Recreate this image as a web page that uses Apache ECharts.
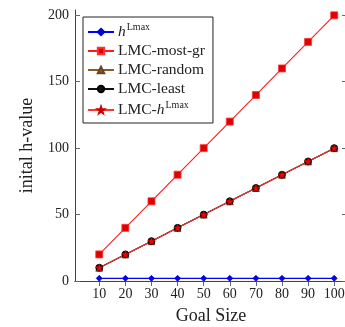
<!DOCTYPE html>
<html>
<head>
<meta charset="utf-8">
<script src="https://cdn.jsdelivr.net/npm/echarts@6/dist/echarts.min.js"></script>
<style>
  html, body { margin: 0; padding: 0; background: #fff; }
  #chart { width: 345px; height: 327px; }
</style>
</head>
<body>
<div id="chart"></div>
<script>
// data
const goalSizes = [10, 20, 30, 40, 50, 60, 70, 80, 90, 100];
const hLmax = [2, 2, 2, 2, 2, 2, 2, 2, 2, 2];
const lmcMostGr = [20, 40, 60, 80, 100, 120, 140, 160, 180, 200];
const lmcRandom = [10, 20, 30, 40, 50, 60, 70, 80, 90, 100];
const lmcLeast = [10, 20, 30, 40, 50, 60, 70, 80, 90, 100];
const lmcHLmax = [10, 20, 30, 40, 50, 60, 70, 80, 90, 100];
const yTicks = [0, 50, 100, 150, 200];

const FONT = '"Liberation Serif", "DejaVu Serif", serif';
const STAR = 'path://M0,-10L2.35,-3.24L9.51,-3.09L3.8,1.24L5.88,8.09L0,4L-5.88,8.09L-3.8,1.24L-9.51,-3.09L-2.35,-3.24Z';

function pairs(ys) {
  return goalSizes.map((x, i) => [x, ys[i]]);
}

function line(name, ys, color, symbol, size, fill, border) {
  return {
    name: name,
    type: 'line',
    data: pairs(ys),
    symbol: symbol,
    symbolSize: size,
    showAllSymbol: true,
    lineStyle: { color: color, width: 1.1 },
    itemStyle: { color: fill, borderColor: border, borderWidth: 0.8 },
    emphasis: { disabled: true },
    animation: false
  };
}

const chart = echarts.init(document.getElementById('chart'));

const sideAxis = {
  axisLine: { lineStyle: { color: '#444', width: 1 } },
  axisTick: { inside: true, length: 5, lineStyle: { color: '#666' } },
  splitLine: { show: false },
  axisLabel: { show: false }
};

chart.setOption({
  animation: false,
  // keep the plot box fixed, the labels live outside it
  grid: { left: 75, right: -2, top: 10, bottom: 46, outerBoundsMode: 'none', containLabel: false },
  xAxis: [{
    type: 'value',
    min: 0.7,
    max: 104.9,
    name: 'Goal Size',
    nameLocation: 'middle',
    nameGap: 26,
    nameTextStyle: { fontFamily: FONT, fontSize: 18, color: '#222' },
    axisLine: { lineStyle: { color: '#444', width: 1 } },
    axisTick: { inside: true, length: 5, customValues: goalSizes, lineStyle: { color: '#666' } },
    axisLabel: { customValues: goalSizes, fontFamily: FONT, fontSize: 14, color: '#222', margin: 6 },
    splitLine: { show: false }
  }, Object.assign({
    type: 'value', position: 'top', min: 0.7, max: 104.9
  }, sideAxis, {
    axisTick: { inside: true, length: 5, customValues: goalSizes, lineStyle: { color: '#666' } }
  })],
  yAxis: [{
    type: 'value',
    min: 0,
    max: 204,
    name: 'inital h-value',
    nameLocation: 'middle',
    nameGap: 39,
    nameTextStyle: { fontFamily: FONT, fontSize: 18, color: '#222' },
    axisLine: { show: true, lineStyle: { color: '#444', width: 1 } },
    axisTick: { show: true, inside: true, length: 5, customValues: yTicks, lineStyle: { color: '#666' } },
    axisLabel: { customValues: yTicks, fontFamily: FONT, fontSize: 14, color: '#222', margin: 6 },
    splitLine: { show: false }
  }, Object.assign({
    type: 'value', position: 'right', min: 0, max: 204
  }, sideAxis, {
    axisLine: { show: true, lineStyle: { color: '#444', width: 1 } },
    axisTick: { show: true, inside: true, length: 5, customValues: yTicks, lineStyle: { color: '#666' } }
  })],
  legend: {
    orient: 'vertical',
    left: 83,
    top: 17,
    width: 130,
    padding: [5, 8, 5, 4],
    itemGap: 3,
    itemWidth: 26,
    itemHeight: 8,
    borderColor: '#222',
    borderWidth: 1,
    backgroundColor: '#fff',
    selectedMode: false,
    data: ['hLmax', 'LMC-most-gr', 'LMC-random', 'LMC-least', 'LMC-hLmax'],
    formatter: function (name) {
      if (name === 'hLmax') return '{it|h}{sup|Lmax}';
      if (name === 'LMC-hLmax') return 'LMC-{it|h}{sup|Lmax}';
      return name;
    },
    textStyle: {
      fontFamily: FONT,
      fontSize: 15.5,
      color: '#222',
      padding: [0, 0, 0, -1],
      rich: {
        it: { fontFamily: FONT, fontSize: 15.5, fontStyle: 'italic', color: '#222' },
        sup: { fontFamily: FONT, fontSize: 10, color: '#222', padding: [0, 0, 10, 1] }
      }
    }
  },
  series: [
    line('hLmax', hLmax, '#0000ff', 'diamond', 6, '#0000ff', '#0000cc'),
    line('LMC-most-gr', lmcMostGr, '#ff1a1a', 'rect', 7, '#e00000', '#ff3333'),
    line('LMC-random', lmcRandom, '#8b5a2b', 'triangle', 7, '#8b5a2b', '#6b4421'),
    line('LMC-least', lmcLeast, '#111111', 'circle', 7, '#111111', '#000000'),
    line('LMC-hLmax', lmcHLmax, '#ff3333', STAR, 7, '#ff0000', '#cc0000')
  ]
});
</script>
</body>
</html>
